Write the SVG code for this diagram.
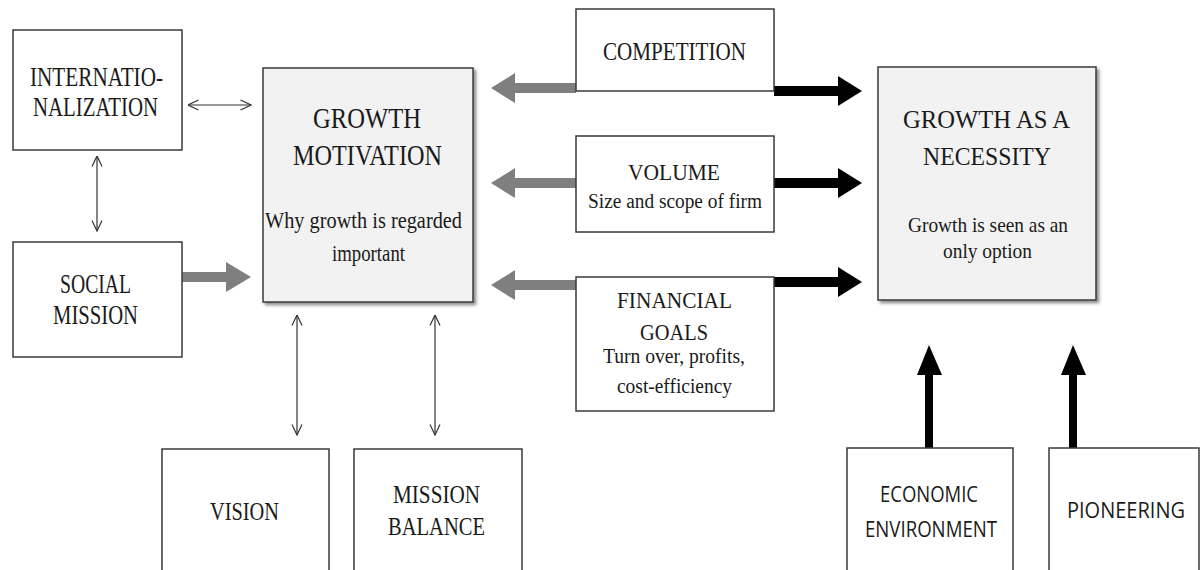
<svg xmlns="http://www.w3.org/2000/svg" width="1201" height="570" viewBox="0 0 1201 570">
  <style>
    .box { fill: #ffffff; stroke: #3a3a3a; stroke-width: 1.5; }
    .core { fill: #f2f2f2; stroke: #3a3a3a; stroke-width: 1.5; filter: url(#shadow); }
    .serif { font-family: "Liberation Serif", "Times New Roman", serif; fill: #1a1a1a; }
    .sans { font-family: "Open Sans", "Liberation Sans", sans-serif; fill: #1a1a1a; }
    .thin { stroke: #333333; stroke-width: 1.2; fill: none; marker-start: url(#open); marker-end: url(#open); }
    .grey { fill: #7f7f7f; }
    .black { fill: #000000; }
  </style>
  <defs>
    <filter id="shadow" x="-10%" y="-10%" width="125%" height="125%">
      <feDropShadow dx="2.5" dy="2.5" stdDeviation="1.5" flood-color="#000" flood-opacity="0.45"/>
    </filter>
    <marker id="open" viewBox="0 0 12 12" refX="11.5" refY="6" markerWidth="12" markerHeight="12" markerUnits="userSpaceOnUse" orient="auto-start-reverse">
      <path d="M1,1 L11.5,6 L1,11" fill="none" stroke="#333333" stroke-width="1.2"/>
    </marker>
  </defs>

  <rect width="1201" height="570" fill="#ffffff"/>

  <!-- connectors -->
  <g id="connectors">
    <line class="thin" x1="188" y1="105" x2="251" y2="105"/>
    <line class="thin" x1="97" y1="156" x2="97" y2="231"/>
    <line class="thin" x1="297" y1="315" x2="297" y2="435"/>
    <line class="thin" x1="435" y1="315" x2="435" y2="435"/>

    <!-- social mission into growth motivation -->
    <polygon class="grey" points="182,272 226,272 226,262 251,277 226,292 226,282 182,282"/>

    <!-- drivers feeding back into growth motivation -->
    <polygon class="grey" points="576,83 515,83 515,73 491,88 515,103 515,93 576,93"/>
    <polygon class="grey" points="576,178 515,178 515,168 491,183 515,198 515,188 576,188"/>
    <polygon class="grey" points="576,280 515,280 515,270 491,285 515,300 515,290 576,290"/>

    <!-- drivers pushing towards growth as a necessity -->
    <polygon class="black" points="774,86 838,86 838,76 862,91 838,106 838,96 774,96"/>
    <polygon class="black" points="774,178 838,178 838,168 862,183 838,198 838,188 774,188"/>
    <polygon class="black" points="774,277 838,277 838,267 862,282 838,297 838,287 774,287"/>

    <!-- external pressures -->
    <polygon class="black" points="925,448 925,375 917,375 929,345 942,375 933,375 933,448"/>
    <polygon class="black" points="1069,448 1069,375 1061,375 1073,345 1086,375 1077,375 1077,448"/>
  </g>

  <g id="internationalization">
    <rect class="box" x="13" y="30" width="169" height="120"/>
    <text class="serif" font-size="28" x="30" y="86" textLength="133" lengthAdjust="spacingAndGlyphs">INTERNATIO-</text>
    <text class="serif" font-size="28" x="33" y="116" textLength="125" lengthAdjust="spacingAndGlyphs">NALIZATION</text>
  </g>

  <g id="social-mission">
    <rect class="box" x="13" y="242" width="169" height="115"/>
    <text class="serif" font-size="27" x="60" y="293" textLength="71" lengthAdjust="spacingAndGlyphs">SOCIAL</text>
    <text class="serif" font-size="27" x="53" y="324" textLength="85" lengthAdjust="spacingAndGlyphs">MISSION</text>
  </g>

  <g id="growth-motivation">
    <rect class="core" x="263" y="68" width="210" height="234"/>
    <text class="serif" font-size="30" x="313" y="128" textLength="108" lengthAdjust="spacingAndGlyphs">GROWTH</text>
    <text class="serif" font-size="30" x="293" y="165" textLength="149" lengthAdjust="spacingAndGlyphs">MOTIVATION</text>
    <text class="serif" font-size="24" x="265" y="228" textLength="197" lengthAdjust="spacingAndGlyphs">Why growth is regarded</text>
    <text class="serif" font-size="24" x="332" y="261" textLength="73" lengthAdjust="spacingAndGlyphs">important</text>
  </g>

  <g id="competition">
    <rect class="box" x="576" y="9" width="198" height="82"/>
    <text class="serif" font-size="26" x="603" y="60" textLength="143" lengthAdjust="spacingAndGlyphs">COMPETITION</text>
  </g>

  <g id="volume">
    <rect class="box" x="576" y="136" width="198" height="96"/>
    <text class="serif" font-size="23" x="628" y="180" textLength="92" lengthAdjust="spacingAndGlyphs">VOLUME</text>
    <text class="serif" font-size="20" x="588" y="208" textLength="174" lengthAdjust="spacingAndGlyphs">Size and scope of firm</text>
  </g>

  <g id="financial-goals">
    <rect class="box" x="576" y="277" width="198" height="134"/>
    <text class="serif" font-size="23" x="617" y="308" textLength="115" lengthAdjust="spacingAndGlyphs">FINANCIAL</text>
    <text class="serif" font-size="23" x="640" y="340" textLength="68" lengthAdjust="spacingAndGlyphs">GOALS</text>
    <text class="serif" font-size="20" x="603" y="363" textLength="142" lengthAdjust="spacingAndGlyphs">Turn over, profits,</text>
    <text class="serif" font-size="20" x="617" y="393" textLength="115" lengthAdjust="spacingAndGlyphs">cost-efficiency</text>
  </g>

  <g id="growth-necessity">
    <rect class="core" x="878" y="67" width="218" height="233"/>
    <text class="serif" font-size="26" x="903" y="128" textLength="167" lengthAdjust="spacingAndGlyphs">GROWTH AS A</text>
    <text class="serif" font-size="26" x="923" y="165" textLength="128" lengthAdjust="spacingAndGlyphs">NECESSITY</text>
    <text class="serif" font-size="22" x="908" y="232" textLength="160" lengthAdjust="spacingAndGlyphs">Growth is seen as an</text>
    <text class="serif" font-size="22" x="943" y="258" textLength="89" lengthAdjust="spacingAndGlyphs">only option</text>
  </g>

  <g id="vision">
    <rect class="box" x="162" y="449" width="167" height="130"/>
    <text class="serif" font-size="25" x="210" y="520" textLength="69" lengthAdjust="spacingAndGlyphs">VISION</text>
  </g>

  <g id="mission-balance">
    <rect class="box" x="354" y="449" width="168" height="130"/>
    <text class="serif" font-size="25" x="393" y="503" textLength="87" lengthAdjust="spacingAndGlyphs">MISSION</text>
    <text class="serif" font-size="25" x="388" y="535" textLength="97" lengthAdjust="spacingAndGlyphs">BALANCE</text>
  </g>

  <g id="economic-environment">
    <rect class="box" x="847" y="448" width="166" height="130"/>
    <text class="sans" font-size="21" x="880" y="502" textLength="98" lengthAdjust="spacingAndGlyphs">ECONOMIC</text>
    <text class="sans" font-size="21" x="865" y="537" textLength="132" lengthAdjust="spacingAndGlyphs">ENVIRONMENT</text>
  </g>

  <g id="pioneering">
    <rect class="box" x="1049" y="448" width="150" height="130"/>
    <text class="sans" font-size="21" x="1067" y="518" textLength="118" lengthAdjust="spacingAndGlyphs">PIONEERING</text>
  </g>
</svg>
